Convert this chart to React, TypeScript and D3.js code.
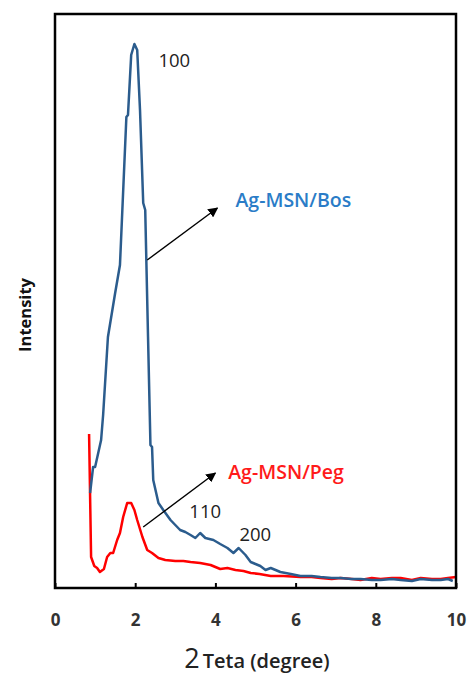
import React, { useEffect, useRef } from "react";
import * as d3 from "d3";

// 2-theta values (degree) and intensity (a.u.)
const bosTheta = [0.875, 0.95, 1.0, 1.15, 1.2, 1.32, 1.5, 1.62, 1.78, 1.82, 1.9, 1.98, 2.05, 2.12, 2.2, 2.25, 2.32, 2.38, 2.42, 2.45, 2.58, 2.7, 2.88, 3.0, 3.12, 3.25, 3.38, 3.5, 3.62, 3.75, 3.95, 4.12, 4.3, 4.45, 4.58, 4.75, 4.88, 5.0, 5.12, 5.25, 5.38, 5.62, 5.88, 6.12, 6.4, 6.62, 6.9, 7.12, 7.4, 7.62, 7.9, 8.12, 8.4, 8.62, 8.9, 9.12, 9.4, 9.62, 9.8, 9.92];
const bosIntensity = [95, 121, 121, 148, 173, 251, 295, 323, 471, 473, 533, 544, 538, 478, 385, 378, 251, 143, 141, 108, 85, 78, 68, 63, 58, 56, 53, 50, 55, 50, 48, 44, 40, 35, 40, 33, 26, 24, 22, 18, 20, 16, 14, 12, 12, 11, 10, 10, 9, 9, 8, 8, 9, 8, 7, 9, 8, 8, 9, 7];

const pegTheta = [0.85, 0.9, 0.98, 1.05, 1.12, 1.22, 1.3, 1.38, 1.45, 1.55, 1.62, 1.7, 1.8, 1.9, 1.98, 2.05, 2.18, 2.3, 2.42, 2.58, 2.75, 3.0, 3.2, 3.38, 3.62, 3.88, 4.12, 4.3, 4.5, 4.7, 4.88, 5.1, 5.38, 5.7, 6.12, 6.4, 6.62, 6.9, 7.12, 7.4, 7.62, 7.9, 8.12, 8.4, 8.62, 8.9, 9.12, 9.4, 9.62, 9.8, 10.0];
const pegIntensity = [154, 31, 22, 20, 16, 19, 31, 35, 35, 48, 55, 71, 85, 85, 78, 68, 51, 38, 35, 30, 28, 27, 27, 26, 25, 23, 19, 20, 18, 17, 15, 14, 12, 12, 11, 11, 10, 9, 10, 9, 8, 10, 9, 10, 10, 8, 10, 9, 9, 10, 11];

const xTicks = [0, 2, 4, 6, 8, 10];

const peakLabels = [
  { text: "100", x: 2.58, y: 527 },
  { text: "110", x: 3.35, y: 76 },
  { text: "200", x: 4.6, y: 53 },
];

const W = 470;
const H = 677;

export default function App() {
  const ref = useRef<SVGSVGElement>(null);

  useEffect(() => {
    document.body.style.margin = "0";
    const svg = d3.select(ref.current);
    svg.selectAll("*").remove();

    const left = 55, right = 456, top = 14, bottom = 588;
    const x = d3.scaleLinear().domain([0, 10]).range([left, right]);
    const y = d3.scaleLinear().domain([0, 574]).range([bottom, top]);

    const font = "'Open Sans', Lato, sans-serif";

    const defs = svg.append("defs");
    defs.append("marker")
      .attr("id", "arrow")
      .attr("viewBox", "0 0 10 10")
      .attr("refX", 9).attr("refY", 5)
      .attr("markerWidth", 10).attr("markerHeight", 10)
      .attr("markerUnits", "userSpaceOnUse")
      .attr("orient", "auto")
      .append("path").attr("d", "M0,0 L10,5 L0,10 z").attr("fill", "#000");

    const line = d3.line<[number, number]>()
      .x((d) => x(d[0]))
      .y((d) => y(d[1]));

    svg.append("path")
      .datum(d3.zip(pegTheta, pegIntensity) as [number, number][])
      .attr("fill", "none")
      .attr("stroke", "#ff0000")
      .attr("stroke-width", 2.5)
      .attr("stroke-linejoin", "round")
      .attr("d", line);

    svg.append("path")
      .datum(d3.zip(bosTheta, bosIntensity) as [number, number][])
      .attr("fill", "none")
      .attr("stroke", "#2b5c8d")
      .attr("stroke-width", 2.5)
      .attr("stroke-linejoin", "round")
      .attr("d", line);

    // frame
    svg.append("rect")
      .attr("x", left).attr("y", top)
      .attr("width", right - left).attr("height", bottom - top)
      .attr("fill", "none").attr("stroke", "#000").attr("stroke-width", 2.5);

    const axis = svg.append("g")
      .attr("transform", `translate(0,${bottom})`)
      .call(d3.axisBottom(x).tickValues(xTicks).tickSize(-5).tickPadding(26).tickSizeOuter(0));
    axis.select(".domain").remove();
    axis.selectAll("line").attr("stroke", "#000").attr("stroke-width", 2);
    axis.selectAll("text")
      .attr("font-family", font).attr("font-size", 17).attr("font-weight", "bold").attr("fill", "#333");

    // axis titles
    const xt = svg.append("text")
      .attr("x", 257).attr("y", 668)
      .attr("text-anchor", "middle")
      .attr("font-family", font).attr("fill", "#222");
    xt.append("tspan").attr("font-size", 27).text("2");
    xt.append("tspan").attr("font-size", 20).attr("font-weight", 600).attr("dx", 3).text("Teta (degree)");

    svg.append("text")
      .attr("transform", "translate(31,315) rotate(-90)")
      .attr("text-anchor", "middle")
      .attr("font-family", font).attr("font-size", 16.5).attr("font-weight", "bold").attr("fill", "#111")
      .text("Intensity");

    // peak labels
    svg.selectAll("text.peak")
      .data(peakLabels)
      .enter().append("text")
      .attr("class", "peak")
      .attr("x", (d) => x(d.x)).attr("y", (d) => y(d.y))
      .attr("dy", "0.35em")
      .attr("font-family", font).attr("font-size", 18.5).attr("fill", "#222")
      .text((d) => d.text);

    // series labels with arrows
    svg.append("line")
      .attr("x1", x(2.3)).attr("y1", y(328)).attr("x2", x(4.05)).attr("y2", y(380))
      .attr("stroke", "#000").attr("stroke-width", 1.4).attr("marker-end", "url(#arrow)");
    svg.append("text")
      .attr("x", x(4.5)).attr("y", y(388)).attr("dy", "0.35em")
      .attr("font-family", font).attr("font-size", 19.5).attr("font-weight", 600).attr("fill", "#2a7cc7")
      .text("Ag-MSN/Bos");

    svg.append("line")
      .attr("x1", x(2.2)).attr("y1", y(61)).attr("x2", x(4.0)).attr("y2", y(115))
      .attr("stroke", "#000").attr("stroke-width", 1.4).attr("marker-end", "url(#arrow)");
    svg.append("text")
      .attr("x", x(4.32)).attr("y", y(116)).attr("dy", "0.35em")
      .attr("font-family", font).attr("font-size", 19.5).attr("font-weight", 600).attr("fill", "#ff1a1a")
      .text("Ag-MSN/Peg");
  }, []);

  return <svg ref={ref} width={W} height={H} style={{ display: "block" }} />;
}
